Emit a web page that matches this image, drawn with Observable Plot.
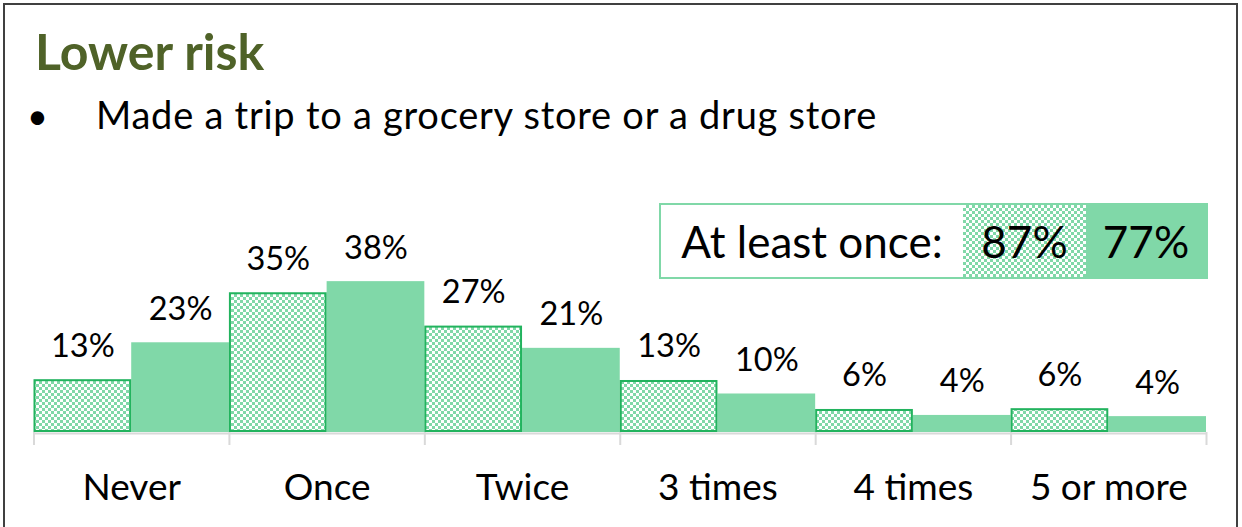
<!DOCTYPE html>
<html>
<head>
<meta charset="utf-8">
<script src="https://cdn.jsdelivr.net/npm/d3@7"></script>
<script src="https://cdn.jsdelivr.net/npm/@observablehq/plot@0.6"></script>
<style>
  html, body { margin: 0; padding: 0; background: #fff; }
  #page { position: relative; width: 1242px; height: 527px; overflow: hidden; font-family: Lato, "Open Sans", sans-serif; }
  #frame { position: absolute; left: 3px; top: 3px; width: 1231px; height: 560px; border: 2px solid #404040; }
  #head { position: absolute; left: 0; top: 0; }
  #chart { position: absolute; left: 0; top: 150px; }
  #legend { position: absolute; left: 659px; top: 203px; width: 549px; height: 76px; box-sizing: border-box;
            border: 2px solid #80d8a8; display: flex; font-size: 44px; color: #000; }
  #legend div { display: flex; align-items: center; justify-content: center; }
  #legend .lbl { width: 302px; background: #fff; }
  #legend .chk { width: 123px; background-color: #fff;
    background-image: conic-gradient(#80d8a8 25%, #fff 0 50%, #80d8a8 0 75%, #fff 0); background-size: 6px 6px; }
  #legend .sol { flex: 1; background: #80d8a8; }
</style>
</head>
<body>
<div id="page">
  <div id="frame"></div>
  <svg id="head" width="1242" height="150">
    <text x="35" y="70" font-family="Lato" font-weight="bold" font-size="50" fill="#4f6228">Lower risk</text>
    <text x="27" y="129" font-family="Lato" font-size="36" fill="#000">•</text>
    <text x="96" y="129" font-family="Lato" font-size="38" letter-spacing="0.75" fill="#000">Made a trip to a grocery store or a drug store</text>
  </svg>
  <div id="chart"></div>
  <div id="legend"></div>
</div>
<script>
const categories = ["Never", "Once", "Twice", "3 times", "4 times", "5 or more"];
const seriesNames = ["patterned", "solid"];
const patternedValues = [13.3, 35.2, 26.8, 13.1, 5.8, 6.0];
const solidValues = [22.6, 38.0, 21.2, 9.7, 4.3, 4.0];
const legendLabel = "At least once:";
const atLeastOnce = [87, 77];

const solidColor = "#80d8a8";
const strokeColor = "#22b35e";
const pxPerPct = 3.97;
const svgHeight = 377;
const marginBottom = 95;
const yMax = (svgHeight - marginBottom) / pxPerPct;

const rows = [];
categories.forEach((c, i) => {
  rows.push({category: c, ci: i, s: 0, value: patternedValues[i]});
  rows.push({category: c, ci: i, s: 1, value: solidValues[i]});
});

const defs = () => {
  const g = d3.create("svg:defs");
  const p = g.append("pattern").attr("id", "chk").attr("width", 6).attr("height", 6).attr("patternUnits", "userSpaceOnUse");
  p.append("rect").attr("width", 6).attr("height", 6).attr("fill", "#fff");
  p.append("rect").attr("width", 3).attr("height", 3).attr("fill", solidColor);
  p.append("rect").attr("x", 3).attr("y", 3).attr("width", 3).attr("height", 3).attr("fill", solidColor);
  return g.node();
};

const chart = Plot.plot({
  width: 1242,
  height: svgHeight,
  marginLeft: 33.5,
  marginRight: 36,
  marginTop: 0,
  marginBottom: marginBottom,
  style: {fontFamily: "Lato", color: "#000", background: "transparent", overflow: "visible"},
  x: {domain: [0, categories.length], axis: null},
  y: {domain: [0, yMax], axis: null},
  marks: [
    defs,
    Plot.ruleY([0], {stroke: "#d9d9d9", strokeWidth: 2, dy: 1}),
    Plot.ruleX(d3.range(categories.length + 1), {y1: 0, y2: -13 / pxPerPct, stroke: "#d9d9d9", strokeWidth: 2}),
    Plot.rectY(rows.filter(d => d.s === 1), {x1: d => d.ci + 0.5, x2: d => d.ci + 1, y: "value", fill: solidColor}),
    Plot.rectY(rows.filter(d => d.s === 0), {x1: d => d.ci, x2: d => d.ci + 0.5, y: "value", fill: "url(#chk)", stroke: strokeColor, strokeWidth: 2, inset: 1}),
    Plot.text(rows, {x: d => d.ci + d.s * 0.5 + 0.25, y: "value", text: d => Math.round(d.value) + "%",
      lineAnchor: "bottom", dy: -23, fontSize: 32.5, fill: "#000"}),
    Plot.axisX({ticks: categories.map((c, i) => i + 0.5), tickFormat: t => categories[Math.floor(t)],
      tickSize: 0, tickPadding: 41, fontSize: 37, fill: "#000"})
  ]
});
document.getElementById("chart").appendChild(chart);

const lg = document.getElementById("legend");
lg.innerHTML = `<div class="lbl">${legendLabel}</div><div class="chk">${atLeastOnce[0]}%</div><div class="sol">${atLeastOnce[1]}%</div>`;
</script>
</body>
</html>
